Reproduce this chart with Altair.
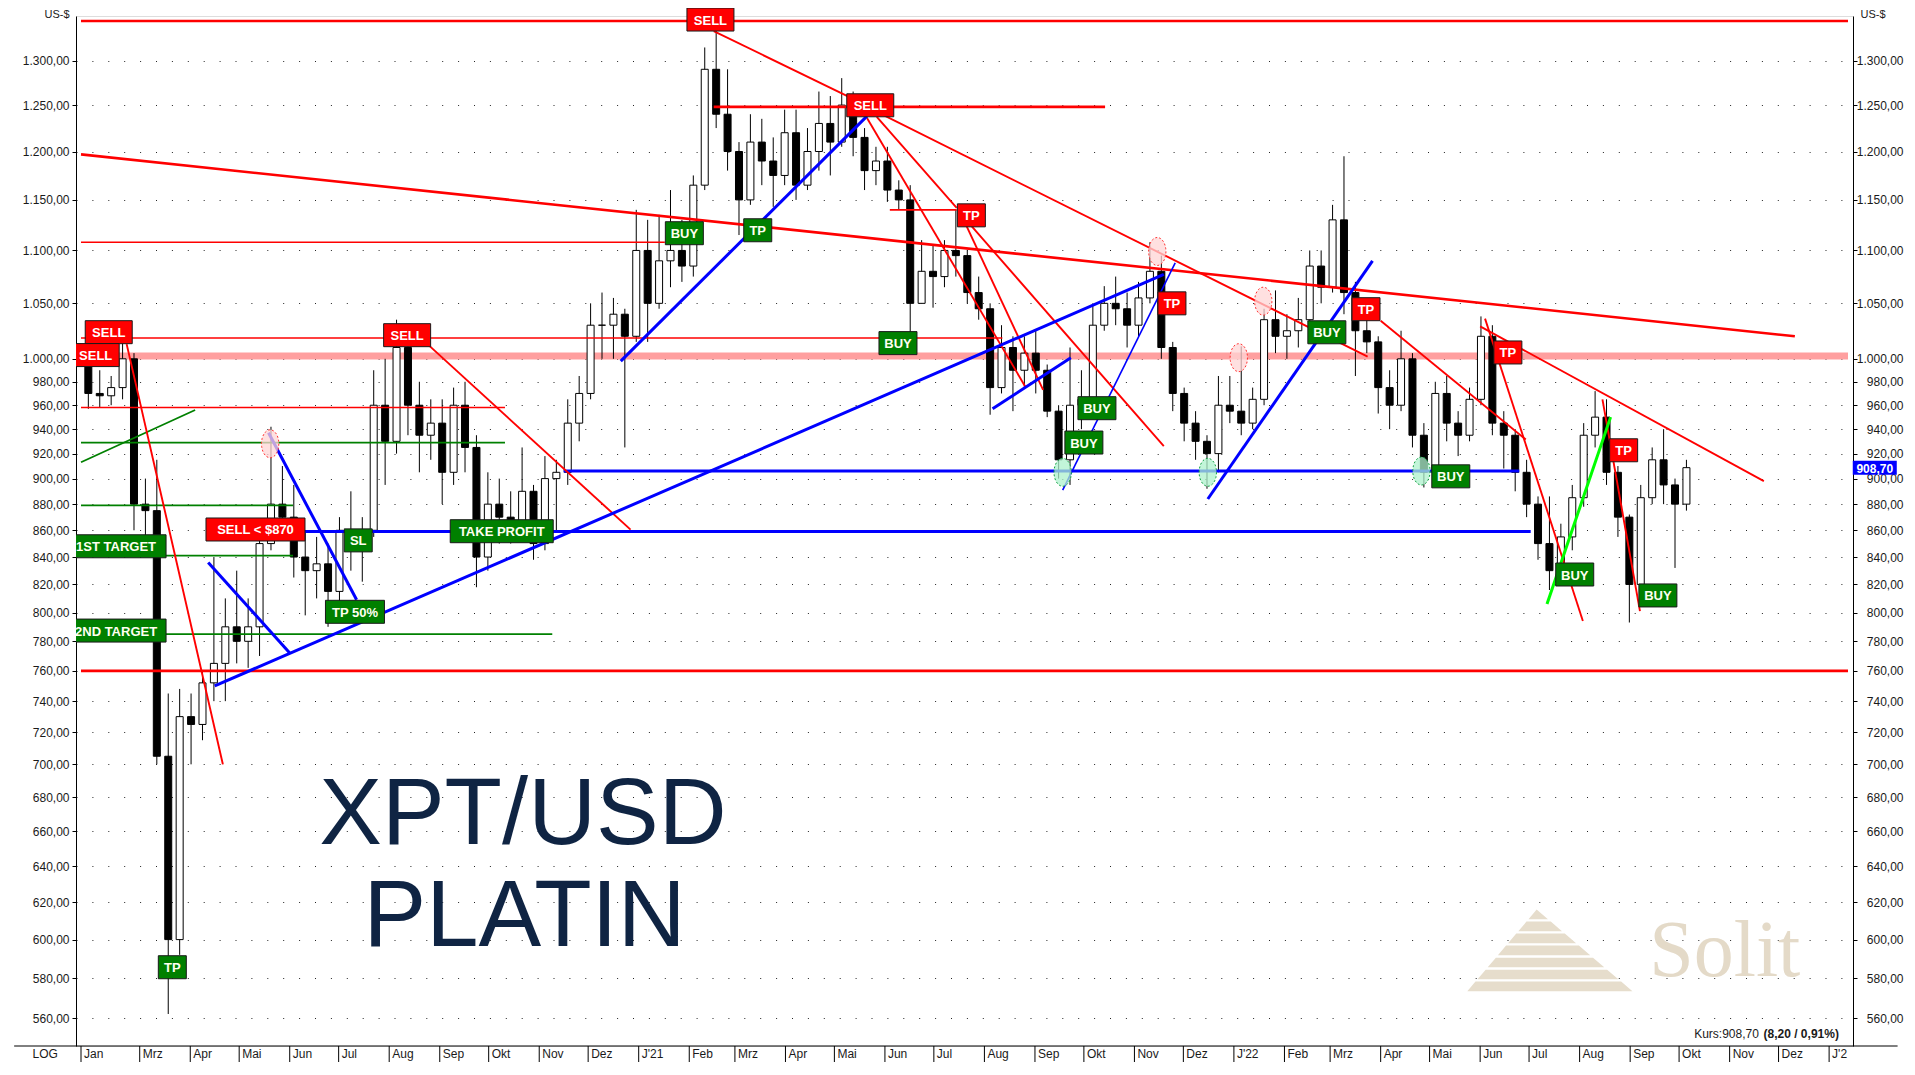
import math
import altair as alt
import pandas as pd

# ---------------- weekly candles (US-$) ----------------
FIRST_WEEK = "2020-01-29 12:00"
opens = [1000, 970, 968, 975, 1000, 880, 875, 705, 600, 730,
         725, 752, 765, 790, 780, 790, 850, 880, 870, 840,
         830, 835, 815, 860, 850, 860, 960, 930, 1010, 960,
         935, 945, 905, 960, 925, 840, 880, 870, 865, 890,
         850, 900, 905, 945, 970, 1030, 1030, 1040, 1020, 1100,
         1050, 1090, 1100, 1085, 1165, 1290, 1240, 1200, 1150, 1210,
         1190, 1175, 1220, 1165, 1200, 1230, 1210, 1250, 1215, 1180,
         1190, 1160, 1150, 1050, 1080, 1075, 1100, 1095, 1060, 1045,
         975, 1010, 990, 1005, 990, 955, 915, 960, 965, 1030,
         1050, 1045, 1030, 1055, 1080, 1010, 970, 945, 930, 920,
         960, 955, 945, 965, 1035, 1020, 1025, 1035, 1085, 1065,
         1130, 1060, 1025, 1015, 975, 960, 1000, 935, 905, 970,
         945, 935, 965, 1020, 945, 935, 905, 880, 850, 830,
         855, 885, 935, 950, 905, 870, 820, 885, 915, 895,
         880]
highs = [1010, 990, 985, 1015, 1005, 900, 915, 745, 748, 745,
         760, 840, 810, 830, 810, 860, 942, 910, 895, 860,
         855, 850, 870, 890, 870, 990, 1000, 1035, 1015, 980,
         965, 965, 975, 980, 935, 905, 900, 890, 925, 895,
         918, 915, 965, 985, 1050, 1060, 1055, 1045, 1140, 1130,
         1135, 1160, 1130, 1175, 1315, 1340, 1290, 1210, 1240, 1235,
         1215, 1245, 1245, 1225, 1265, 1260, 1280, 1265, 1225, 1205,
         1205, 1170, 1165, 1110, 1105, 1110, 1140, 1100, 1075, 1050,
         1030, 1020, 1020, 1025, 995, 960, 1010, 990, 1050, 1066,
         1075, 1060, 1070, 1108, 1095, 1015, 975, 955, 935, 985,
         985, 1011, 975, 1045, 1062, 1040, 1055, 1100, 1100, 1145,
         1195, 1070, 1045, 1020, 990, 1025, 1005, 945, 980, 985,
         955, 975, 1038, 1030, 955, 940, 915, 886, 886, 865,
         895, 945, 972, 965, 910, 872, 895, 925, 940, 900,
         915]
lows = [957, 958, 960, 965, 860, 855, 700, 562, 592, 700,
        715, 740, 740, 765, 762, 770, 845, 855, 825, 798,
        810, 790, 805, 830, 822, 855, 895, 920, 935, 905,
        915, 880, 895, 905, 818, 830, 850, 850, 860, 838,
        845, 860, 895, 930, 965, 1000, 1000, 925, 1015, 1015,
        1045, 1065, 1070, 1075, 1160, 1225, 1180, 1115, 1145, 1165,
        1143, 1165, 1150, 1160, 1180, 1175, 1205, 1195, 1160, 1165,
        1148, 1140, 1022, 1050, 1046, 1065, 1075, 1050, 1035, 952,
        970, 955, 975, 970, 950, 900, 895, 940, 955, 1025,
        1030, 1010, 1020, 1050, 1000, 955, 930, 915, 892, 905,
        945, 935, 940, 960, 1005, 1000, 1010, 1025, 1050, 1060,
        1040, 985, 1005, 953, 940, 955, 925, 893, 900, 930,
        918, 930, 960, 935, 908, 890, 870, 838, 816, 825,
        845, 878, 925, 895, 855, 793, 815, 880, 880, 832,
        875]
closes = [970, 968, 975, 1000, 880, 875, 705, 600, 730, 725,
          752, 765, 790, 780, 790, 850, 880, 870, 840, 830,
          835, 815, 860, 850, 860, 960, 930, 1010, 960, 935,
          945, 905, 960, 925, 840, 880, 870, 865, 890, 850,
          900, 905, 945, 970, 1030, 1030, 1040, 1020, 1100, 1050,
          1090, 1100, 1085, 1165, 1290, 1240, 1200, 1150, 1210, 1190,
          1175, 1220, 1165, 1200, 1230, 1210, 1250, 1215, 1180, 1190,
          1160, 1150, 1050, 1080, 1075, 1100, 1095, 1060, 1045, 975,
          1010, 990, 1005, 990, 955, 915, 960, 965, 1030, 1050,
          1045, 1030, 1055, 1080, 1010, 970, 945, 930, 920, 960,
          955, 945, 965, 1035, 1020, 1025, 1035, 1085, 1065, 1130,
          1060, 1025, 1015, 975, 960, 1000, 935, 905, 970, 945,
          935, 965, 1020, 945, 935, 905, 880, 850, 830, 855,
          885, 935, 950, 905, 870, 820, 885, 915, 895, 880,
          908.7]
last_price = 908.70
kurs_change = "(8,20 / 0,91%)"

# ---------------- axes ----------------
y_ticks = [560, 580, 600, 620, 640, 660, 680, 700, 720, 740, 760, 780, 800, 820, 840,
           860, 880, 900, 920, 940, 960, 980, 1000, 1050, 1100, 1150, 1200, 1250, 1300]
x_start = "2020-01-25"
x_end = "2023-01-12 14:00"
y_min, y_max = 546.4, 1351.9
month_ticks = [x_start] + list(pd.date_range("2020-03-01", "2023-01-01", freq="MS").strftime("%Y-%m-%d"))
month_names = ["Jan", "Feb", "Mrz", "Apr", "Mai", "Jun", "Jul", "Aug", "Sep", "Okt", "Nov", "Dez"]
january_labels = {2020: "Jan", 2021: "J'21", 2022: "J'22", 2023: "J'2"}
log_label, log_date = "LOG", "2020-01-03"
frame_left, frame_right = "2019-12-15", "2023-02-12"

# ---------------- drawn analysis lines ----------------
seg_kind = ["band", "red_thick", "red_thick", "red_thin", "red_thin", "red_thin", "red_thick", "red",
            "green", "green", "green", "green", "green", "blue", "blue",
            "red", "red_thick", "red", "red", "red", "red", "red", "red", "red", "red", "red", "red", "red",
            "blue", "blue", "blue", "blue", "blue", "blue_thin", "blue", "lime"]
seg_x1 = [x_start, x_start, x_start, x_start, x_start, x_start, "2021-02-16", "2021-06-04",
          x_start, x_start, x_start, x_start, x_start, "2020-11-16", "2020-06-10",
          "2020-02-22", x_start, "2020-08-26", "2021-02-16", "2021-05-21", "2021-05-27", "2021-05-21",
          "2021-07-21", "2021-07-24", "2022-04-01", "2022-06-04", "2022-06-01", "2022-08-15",
          "2020-04-12", "2020-04-16", "2020-05-19", "2020-12-21", "2021-08-06", "2021-09-18",
          "2021-12-16", "2022-07-12"]
seg_y1 = [1002.5, 1346, 760, 1108, 1018.5, 958, 1248, 1140,
          929, 879, 841, 785, 913, 906, 859,
          1013, 1197, 1011, 1334, 1248, 1237, 1236, 1124, 1124, 1034, 1036, 1029, 965,
          836, 750, 937, 998, 957, 891, 884, 806]
seg_x2 = [x_end, x_end, x_end, "2021-01-17", "2021-08-12", "2020-10-11", "2021-10-14", "2021-07-15",
          "2020-10-11", "2020-06-03", "2020-06-03", "2020-11-09", "2020-04-04", "2022-06-25", "2022-07-02",
          "2020-04-21", "2022-12-11", "2020-12-27", "2021-05-09", "2022-03-24", "2021-07-15", "2021-08-26",
          "2021-09-06", "2021-11-19", "2022-06-29", "2022-08-03", "2022-11-22", "2022-09-07",
          "2020-06-01", "2021-11-19", "2020-07-12", "2021-05-21", "2021-09-23", "2021-11-26",
          "2022-03-27", "2022-08-20"]
seg_y2 = [1002.5, 1346, 760, 1108, 1018.5, 958, 1248, 1140,
          929, 879, 841, 785, 956, 906, 859,
          700, 1020, 860.5, 1260, 1002, 1142, 976, 973, 926, 931.5, 794, 898, 801,
          772, 1077, 809, 1238, 1001, 1088, 1090, 950]

# ---------------- marked turning points ----------------
circle_kind = ["pink", "green", "green", "pink", "pink", "pink", "green"]
circle_date = ["2020-05-20", "2021-09-18", "2021-12-16", "2021-11-15", "2022-01-04", "2022-01-19", "2022-04-26"]
circle_price = [928, 905, 905, 1099, 1001, 1052, 906]

# ---------------- signal labels ----------------
label_text = ["SELL", "SELL", "1ST TARGET", "2ND TARGET", "TP", "SELL <  $870", "SL", "TP 50%",
              "SELL", "TAKE PROFIT", "SELL", "BUY", "TP", "SELL", "BUY", "TP", "BUY", "BUY", "TP",
              "BUY", "TP", "BUY", "TP", "TP", "BUY", "BUY"]
label_color = ["red", "red", "green", "green", "green", "red", "green", "green",
               "red", "green", "red", "green", "green", "red", "green", "red", "green", "green", "red",
               "green", "red", "green", "red", "red", "green", "green"]
label_date = ["2020-02-11", "2020-02-03", "2020-02-15 12:00", "2020-02-15 12:00", "2020-03-21", "2020-05-11",
              "2020-07-13", "2020-07-11", "2020-08-12", "2020-10-09", "2021-02-14", "2021-01-29",
              "2021-03-15", "2021-05-23", "2021-06-09", "2021-07-24", "2021-10-09", "2021-10-01",
              "2021-11-24", "2022-02-27", "2022-03-23", "2022-05-14", "2022-06-18", "2022-08-28",
              "2022-07-29", "2022-09-18"]
label_price = [1023.7, 1003.3, 848, 787.4, 585.6, 860.6, 852.4, 800.5, 1021, 859.3, 1347.7, 1116.8,
               1119.7, 1249.8, 1013.9, 1134.5, 957.5, 929, 1050, 1023.6, 1044.6, 901.8, 1005.6, 922.7,
               827.2, 812.1]

# ---------------- big texts / watermark anchors ----------------
title_text = ["XPT/USD", "PLATIN"]
title_date = ["2020-10-22", "2020-10-23"]
title_price = [652.4, 596.6]
logo_text, logo_date, logo_price = "Solit", "2022-10-29", 581
pyramid_date, pyramid_price = "2022-07-14", 593.7
kurs_date, kurs_price = "2023-01-07", 552
price_tag_date = "2023-01-29"

# =====================================================================
def iso(s):
    return pd.Timestamp(s).strftime("%Y-%m-%dT%H:%M:%SZ")


def dt(s):
    t = pd.Timestamp(s)
    return alt.DateTime(year=t.year, month=t.month, date=t.day, hours=t.hour, minutes=t.minute, utc=True)


FONT = "Liberation Sans"
TXT = "#1a1a1a"
x_scale = alt.Scale(type="utc", domain=[dt(x_start), dt(x_end)])
y_scale = alt.Scale(type="log", domain=[y_min, y_max], nice=False)
# price levels of the strip under the plot (the log scale extends below its domain)
STRIP_LABEL = y_min * math.exp(-8.0 / 1137)
STRIP_BOTTOM = y_min * math.exp(-18.0 / 1137)


def X(f):
    return alt.X(f, type="temporal", scale=x_scale, axis=None)


def Y(f):
    return alt.Y(f, type="quantitative", scale=y_scale, axis=None)


y_label_expr = "replace(replace(replace(format(datum.value, ',.2f'), ',', '_'), '.', ','), '_', '.')"

x_axis = alt.Axis(orient="bottom", labels=False, ticks=False, grid=False, title=None,
                  domainColor="black", domainWidth=1)
y_axis_left = alt.Axis(values=y_ticks, labelExpr=y_label_expr, orient="left", tickSize=4,
                       labelPadding=3, labelFont=FONT, labelFontSize=12, labelColor=TXT,
                       labelOverlap=False, tickColor="black", domainColor="black", domainWidth=1,
                       grid=True, gridDash=[1, 14.9], gridColor="black", gridWidth=1, gridOpacity=0.85,
                       title="US-$", titleAngle=0, titleX=-7, titleY=-2, titleAlign="right",
                       titleBaseline="middle", titleFont=FONT, titleFontSize=11,
                       titleFontWeight="normal", titleColor=TXT)
y_axis_right = alt.Axis(values=y_ticks, labelExpr=y_label_expr, orient="right", tickSize=4,
                        labelPadding=46, labelAlign="right", labelFont=FONT, labelFontSize=12,
                        labelColor=TXT, labelOverlap=False, tickColor="black",
                        domainColor="black", domainWidth=1, grid=False,
                        title="US-$", titleAngle=0, titleX=7, titleY=-2, titleAlign="left",
                        titleBaseline="middle", titleFont=FONT, titleFontSize=11,
                        titleFontWeight="normal", titleColor=TXT)

# ---- data frames ----
dates = pd.date_range(FIRST_WEEK, periods=len(closes), freq="7D").strftime("%Y-%m-%dT%H:%M:%SZ")
candles = pd.DataFrame({"date": dates, "open": opens, "high": highs, "low": lows, "close": closes})
candles["dir"] = ["up" if c >= o else "down" for o, c in zip(opens, closes)]

SEG_STYLE = {"band": ("#ff9f9f", 7.0), "red_thick": ("#ff0000", 2.6), "red": ("#ff0000", 1.9),
             "red_thin": ("#ff0000", 1.5), "green": ("#008000", 1.8), "blue": ("#0000ff", 3.0),
             "blue_thin": ("#0000ff", 1.6), "lime": ("#00ff00", 3.0)}
segs = pd.DataFrame({"kind": seg_kind, "x1": [iso(s) for s in seg_x1], "y1": seg_y1,
                     "x2": [iso(s) for s in seg_x2], "y2": seg_y2})
segs["color"] = [SEG_STYLE[k][0] for k in seg_kind]
segs["width"] = [SEG_STYLE[k][1] for k in seg_kind]

band_layer = alt.Chart(segs[segs.kind == "band"]).mark_rule(clip=True, strokeCap="butt").encode(
    x=alt.X("x1", type="temporal", scale=x_scale, axis=x_axis), x2=alt.X2("x2"),
    y=alt.Y("y1", type="quantitative", scale=y_scale, axis=y_axis_left), y2=alt.Y2("y2"),
    color=alt.Color("color:N", scale=None), strokeWidth=alt.StrokeWidth("width:Q", scale=None))
line_layer = alt.Chart(segs[segs.kind != "band"]).mark_rule(clip=True, strokeCap="butt").encode(
    x=X("x1"), x2=alt.X2("x2"), y=Y("y1"), y2=alt.Y2("y2"),
    color=alt.Color("color:N", scale=None), strokeWidth=alt.StrokeWidth("width:Q", scale=None))

wick = alt.Chart(candles).mark_rule(color="black", strokeWidth=1).encode(
    x=X("date"),
    y=alt.Y("low", type="quantitative", scale=y_scale, axis=y_axis_right),
    y2=alt.Y2("high"))
body = alt.Chart(candles).mark_bar(width=7, stroke="black", strokeWidth=1).encode(
    x=X("date"), y=Y("open"), y2=alt.Y2("close"),
    fill=alt.Fill("dir:N", scale=alt.Scale(domain=["up", "down"], range=["white", "black"]), legend=None))

# ---- month strip under the plot (time axis) ----
month_labels = []
for m in month_ticks:
    t = pd.Timestamp(m)
    month_labels.append(january_labels[t.year] if t.month == 1 else month_names[t.month - 1])
months = pd.DataFrame({"date": [iso(m) for m in month_ticks], "label": month_labels})
months["top"] = y_min
months["bottom"] = STRIP_BOTTOM
months["ly"] = STRIP_LABEL
month_ticks_layer = alt.Chart(months).mark_rule(color="black", strokeWidth=1, clip=False).encode(
    x=X("date"), y=Y("top"), y2=alt.Y2("bottom"))
month_text_layer = alt.Chart(months).mark_text(font=FONT, fontSize=12, color=TXT, align="left",
                                               baseline="middle", dx=3, clip=False).encode(
    x=X("date"), y=Y("ly"), text="label:N")
frame = pd.DataFrame({"x1": [iso(frame_left)], "x2": [iso(frame_right)], "y": [y_min]})
frame_layer = alt.Chart(frame).mark_rule(color="black", strokeWidth=1, clip=False).encode(
    x=X("x1"), x2=alt.X2("x2"), y=Y("y"))
logdf = pd.DataFrame({"text": [log_label], "date": [iso(log_date)], "price": [STRIP_LABEL]})
log_layer = alt.Chart(logdf).mark_text(font=FONT, fontSize=12, color=TXT, align="center",
                                       baseline="middle", clip=False).encode(
    x=X("date"), y=Y("price"), text="text:N")


def rect_path(w, h):
    r = h / w
    return f"M-1,{-r:.4f} L1,{-r:.4f} L1,{r:.4f} L-1,{r:.4f} Z"


def ellipse_path(rx, ry, n=32):
    pts = [(rx * math.cos(2 * math.pi * i / n), ry * math.sin(2 * math.pi * i / n)) for i in range(n)]
    return "M" + " L".join(f"{a:.3f},{b:.3f}" for a, b in pts) + " Z"


def pyramid_path(layers=7):
    h, apex = 0.494, -0.16
    step = 2 * h / layers
    left = lambda y: apex + (-1 - apex) * (y + h) / (2 * h)
    right = lambda y: apex + (1 - apex) * (y + h) / (2 * h)
    parts = []
    for i in range(layers):
        yt = -h + i * step
        yb = yt + step * 0.8
        parts.append(f"M{left(yt):.3f},{yt:.3f} L{right(yt):.3f},{yt:.3f} "
                     f"L{right(yb):.3f},{yb:.3f} L{left(yb):.3f},{yb:.3f} Z")
    return " ".join(parts)


# circles
CIRCLE_STYLE = {"pink": ("#ffd6d6", "#ff3030"), "green": ("#aef2cc", "#10a040")}
circles = pd.DataFrame({"kind": circle_kind, "date": [iso(d) for d in circle_date], "price": circle_price})
circle_layers = []
for kind, (fill, stroke) in CIRCLE_STYLE.items():
    circle_layers.append(
        alt.Chart(circles[circles.kind == kind]).mark_point(
            shape=ellipse_path(0.62, 1.0), size=28 * 28, filled=True, fill=fill, fillOpacity=0.75,
            stroke=stroke, strokeWidth=1, strokeDash=[2, 2], opacity=1).encode(x=X("date"), y=Y("price")))

# labels
BOX_W = {"SELL": 47, "TP": 28, "BUY": 38, "SL": 28, "TP 50%": 59, "TAKE PROFIT": 103,
         "SELL <  $870": 99, "1ST TARGET": 100, "2ND TARGET": 100}
BOX_H = 23
BOX_FILL = {"red": "#ff0000", "green": "#008000"}
TEXT_FILL = {"red": "#ffffff", "green": "#fffff0"}
labels = pd.DataFrame({"text": label_text, "color": label_color,
                       "date": [iso(d) for d in label_date], "price": label_price})
labels["clip"] = [pd.Timestamp(d) < pd.Timestamp("2020-02-20") for d in label_date]
label_layers = []
for (txt, col, clip), grp in labels.groupby(["text", "color", "clip"]):
    w = BOX_W[txt]
    label_layers.append(alt.Chart(grp).mark_point(
        shape=rect_path(w, BOX_H), size=w * w, filled=True, fill=BOX_FILL[col], fillOpacity=1,
        stroke="#1a1a1a", strokeWidth=1, opacity=1, clip=bool(clip)).encode(x=X("date"), y=Y("price")))
    label_layers.append(alt.Chart(grp).mark_text(
        font=FONT, fontSize=13, fontWeight="bold", color=TEXT_FILL[col], align="center",
        baseline="middle", dy=1, clip=bool(clip)).encode(x=X("date"), y=Y("price"), text="text:N"))

# big title
titles = pd.DataFrame({"text": title_text, "date": [iso(d) for d in title_date], "price": title_price})
title_main = alt.Chart(titles).mark_text(font=FONT, fontSize=94, color="#0f2443",
                                         align="center", baseline="alphabetic").encode(
    x=X("date"), y=Y("price"), text="text:N")

# watermark
logo = pd.DataFrame({"text": [logo_text], "date": [iso(logo_date)], "price": [logo_price]})
logo_layer = alt.Chart(logo).mark_text(font="Liberation Serif", fontSize=80, color="#e4dac8",
                                       align="center", baseline="alphabetic").encode(
    x=X("date"), y=Y("price"), text="text:N")
pyr = pd.DataFrame({"date": [iso(pyramid_date)], "price": [pyramid_price]})
pyr_layer = alt.Chart(pyr).mark_point(shape=pyramid_path(), size=170 * 170, filled=True,
                                      fill="#e6ddcc", opacity=1, strokeWidth=0).encode(
    x=X("date"), y=Y("price"))

# quote texts
kurs = pd.DataFrame({"a": ["Kurs:" + f"{last_price:.2f}".replace(".", ",")], "b": [kurs_change],
                     "date": [iso(kurs_date)], "price": [kurs_price]})
kurs_b = alt.Chart(kurs).mark_text(font=FONT, fontSize=12, fontWeight="bold", color=TXT,
                                   align="right", baseline="middle").encode(
    x=X("date"), y=Y("price"), text="b:N")
kurs_a = alt.Chart(kurs).mark_text(font=FONT, fontSize=12, color=TXT, align="right",
                                   baseline="middle", dx=-80).encode(x=X("date"), y=Y("price"), text="a:N")

tag = pd.DataFrame({"text": [f"{last_price:.2f}".replace(".", ",")], "date": [iso(price_tag_date)],
                    "price": [last_price]})
tag_box = alt.Chart(tag).mark_point(shape=rect_path(44, 14), size=44 * 44, filled=True, fill="#0000ff",
                                    fillOpacity=1, strokeWidth=0, opacity=1, clip=False).encode(
    x=X("date"), y=Y("price"))
tag_text = alt.Chart(tag).mark_text(font=FONT, fontSize=12, fontWeight="bold", color="white",
                                    align="center", baseline="middle", dy=1, clip=False).encode(
    x=X("date"), y=Y("price"), text="text:N")

chart = alt.layer(
    band_layer, wick, body, line_layer, *circle_layers,
    pyr_layer, logo_layer, title_main,
    *label_layers, kurs_a, kurs_b, tag_box, tag_text,
    frame_layer, month_ticks_layer, month_text_layer, log_layer
).resolve_scale(x="shared", y="shared").resolve_axis(y="independent").properties(
    width=1777, height=1030,
    padding={"left": 68, "top": 8, "right": 52, "bottom": 16},
    autosize=alt.AutoSizeParams(type="none"),
).configure_view(stroke=None).configure(background="white", font=FONT)

chart.save("out.html", embed_options={"renderer": "svg", "actions": False})
